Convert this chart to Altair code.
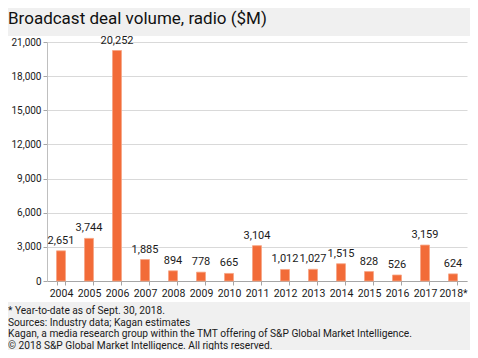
import altair as alt
import pandas as pd

years = ["2004", "2005", "2006", "2007", "2008", "2009", "2010", "2011",
         "2012", "2013", "2014", "2015", "2016", "2017", "2018*"]
volumes = [2651, 3744, 20252, 1885, 894, 778, 665, 3104,
           1012, 1027, 1515, 828, 526, 3159, 624]
y_ticks = [0, 3000, 6000, 9000, 12000, 15000, 18000, 21000]
title_text = "Broadcast deal volume, radio ($M)"
footnotes = [
    "* Year-to-date as of Sept. 30, 2018.",
    "Sources: Industry data; Kagan estimates",
    "Kagan, a media research group within the TMT offering of S&P Global Market Intelligence.",
    "\u00a9 2018 S&P Global Market Intelligence. All rights reserved.",
]

FONT = "Roboto"
GRAY_BG = "#f0f0f0"
W, H = 420, 239
PAD_L, PAD_T, PAD_R, PAD_B = 39, 34, 3, 69

df = pd.DataFrame({"year": years, "volume": volumes})
one = pd.DataFrame({"k": [0]})
notes_df = pd.DataFrame({"note": ["\n".join(footnotes)]})
title_df = pd.DataFrame({"t": [title_text]})

# gray bands (page background above and below the white panel)
top_band = alt.Chart(one).mark_rect(color=GRAY_BG).encode(
    x=alt.value(-PAD_L), x2=alt.value(W + PAD_R),
    y=alt.value(-PAD_T), y2=alt.value(-6),
)
bottom_band = alt.Chart(one).mark_rect(color=GRAY_BG).encode(
    x=alt.value(-PAD_L), x2=alt.value(W + PAD_R),
    y=alt.value(260), y2=alt.value(H + PAD_B),
)

x_axis = alt.Axis(
    labelAngle=0, labelFont=FONT, labelFontSize=10.5, labelColor="#1a1a1a",
    domainColor="#a6a6a6", tickColor="#a6a6a6", tickSize=4,
    tickBand="extent", labelPadding=3, grid=False,
)
y_axis = alt.Axis(
    values=y_ticks, format=",.0f", labelFont=FONT, labelFontSize=10,
    labelColor="#1a1a1a", domainColor="#bfbfbf", tickColor="#a6a6a6",
    tickSize=4, labelPadding=2, gridColor="#d9d9d9", gridWidth=1,
    labelOverlap=False,
)
x_scale = alt.Scale(paddingInner=0.68, paddingOuter=0.34)
y_scale = alt.Scale(domain=[0, 21000], nice=False)

x_enc = alt.X("year:N", sort=years, title=None, scale=x_scale, axis=x_axis)
y_enc = alt.Y("volume:Q", title=None, scale=y_scale, axis=y_axis)

bars = alt.Chart(df).mark_bar(
    color="#F26B38", stroke="#F6A584", strokeWidth=0.8
).encode(x=x_enc, y=y_enc)

labels = alt.Chart(df).mark_text(
    font=FONT, fontSize=11, color="#1a1a1a", baseline="alphabetic", dy=-7
).encode(
    x=x_enc, y=y_enc,
    text=alt.Text("volume:Q", format=",.0f"),
)

title = alt.Chart(title_df).mark_text(
    font=FONT, fontSize=17, fontWeight="normal", color="#111111",
    align="left", baseline="alphabetic",
).encode(x=alt.value(-PAD_L), y=alt.value(-18), text="t:N")

notes = alt.Chart(notes_df).mark_text(
    font=FONT, fontSize=10.2, color="#1a1a1a", align="left",
    baseline="top", lineBreak="\n", lineHeight=11.6,
).encode(
    x=alt.value(-PAD_L), y=alt.value(264), text="note:N",
)

chart = alt.layer(top_band, bottom_band, bars, labels, title, notes).properties(
    width=W, height=H,
    padding={"left": PAD_L, "top": PAD_T, "right": PAD_R, "bottom": PAD_B},
    autosize=alt.AutoSizeParams(type="none"),
    background="white",
).configure_view(stroke=None)

chart.save("out.html", embed_options={"renderer": "svg", "actions": False})
